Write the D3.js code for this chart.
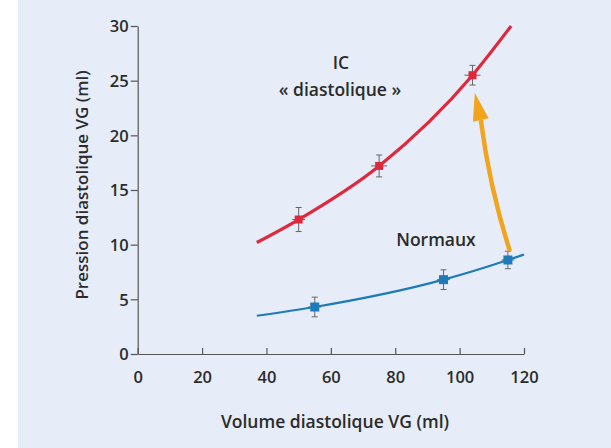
<!DOCTYPE html>
<html>
<head>
<meta charset="utf-8">
<script src="https://cdn.jsdelivr.net/npm/d3@7"></script>
<style>
  html, body { margin: 0; padding: 0; background: #fff; }
  text { font-family: "Open Sans", sans-serif; fill: #2b2b2b; }
</style>
</head>
<body>
<div id="chart"></div>
<script>
// data
var xTicks = [0, 20, 40, 60, 80, 100, 120];
var yTicks = [0, 5, 10, 15, 20, 25, 30];

var icVolume = [50, 75, 104];
var icPressure = [12.3, 17.2, 25.5];
var icErrX = [2, 2.5, 2.5];
var icErrY = [1.1, 1.0, 0.9];
var icCurveX = [37, 50, 75, 104, 116];
var icCurveY = [10.2, 12.3, 17.2, 25.5, 30];

var normVolume = [55, 95, 115];
var normPressure = [4.3, 6.8, 8.6];
var normErrX = [2, 2, 2];
var normErrY = [0.9, 0.9, 0.8];
var normCurveX = [37, 55, 95, 115, 120];
var normCurveY = [3.5, 4.3, 6.8, 8.6, 9.1];

var arrowX = [115.6, 104.7];
var arrowY = [9.4, 23.9];

var W = 611, H = 448;

var svg = d3.select('#chart').append('svg')
  .attr('width', W)
  .attr('height', H);

svg.append('rect')
  .attr('x', 18).attr('y', 0)
  .attr('width', W - 18).attr('height', H)
  .attr('fill', '#e6edf8');

var x = d3.scaleLinear().domain([0, 120]).range([137.7, 524]);
var y = d3.scaleLinear().domain([0, 30]).range([354, 26]);

// axes
var xAxis = svg.append('g')
  .attr('transform', 'translate(0,' + y(0) + ')')
  .call(d3.axisBottom(x).tickValues(xTicks).tickSizeInner(-6).tickSizeOuter(0).tickPadding(17));
var yAxis = svg.append('g')
  .attr('transform', 'translate(' + x(0) + ',0)')
  .call(d3.axisLeft(y).tickValues(yTicks).tickSizeInner(7).tickSizeOuter(0).tickPadding(2));

[xAxis, yAxis].forEach(function(a) {
  a.select('.domain').attr('stroke', '#555').attr('stroke-width', 1.2);
  a.selectAll('.tick line').attr('stroke', '#555').attr('stroke-width', 1.2);
  a.selectAll('.tick text')
    .attr('fill', '#2b2b2b')
    .style('font-family', '"Open Sans", sans-serif')
    .style('font-size', '16.5px')
    .style('font-weight', 600);
});
yAxis.selectAll('.tick text').attr('dy', '0.36em');

// axis titles
svg.append('text')
  .attr('x', 335).attr('y', 428)
  .attr('text-anchor', 'middle')
  .style('font-size', '17.5px').style('font-weight', 600)
  .text('Volume diastolique VG (ml)');

svg.append('text')
  .attr('transform', 'translate(88,185) rotate(-90)')
  .attr('text-anchor', 'middle')
  .style('font-size', '17px').style('font-weight', 600)
  .text('Pression diastolique VG (ml)');

// curves
var line = d3.line()
  .x(function(d) { return x(d[0]); })
  .y(function(d) { return y(d[1]); })
  .curve(d3.curveMonotoneX);

svg.append('path')
  .datum(d3.zip(icCurveX, icCurveY))
  .attr('d', line)
  .attr('fill', 'none')
  .attr('stroke', '#e0283c')
  .attr('stroke-width', 3.2);

svg.append('path')
  .datum(d3.zip(normCurveX, normCurveY))
  .attr('d', line)
  .attr('fill', 'none')
  .attr('stroke', '#1c7bb8')
  .attr('stroke-width', 2.2);

// error bars and markers
function drawPoints(xs, ys, ex, ey, color, size) {
  var pts = xs.map(function(v, i) {
    return { x: v, y: ys[i], ex: ex[i], ey: ey[i] };
  });
  var g = svg.append('g');
  g.selectAll('line.ev').data(pts).enter().append('line')
    .attr('x1', function(d) { return x(d.x); })
    .attr('x2', function(d) { return x(d.x); })
    .attr('y1', function(d) { return y(d.y - d.ey); })
    .attr('y2', function(d) { return y(d.y + d.ey); })
    .attr('stroke', '#666').attr('stroke-width', 1);
  g.selectAll('line.eh').data(pts).enter().append('line')
    .attr('x1', function(d) { return x(d.x - d.ex); })
    .attr('x2', function(d) { return x(d.x + d.ex); })
    .attr('y1', function(d) { return y(d.y); })
    .attr('y2', function(d) { return y(d.y); })
    .attr('stroke', '#666').attr('stroke-width', 1);
  // caps
  g.selectAll('line.ct').data(pts).enter().append('line')
    .attr('x1', function(d) { return x(d.x) - 3; })
    .attr('x2', function(d) { return x(d.x) + 3; })
    .attr('y1', function(d) { return y(d.y + d.ey); })
    .attr('y2', function(d) { return y(d.y + d.ey); })
    .attr('stroke', '#666').attr('stroke-width', 1);
  g.selectAll('line.cb').data(pts).enter().append('line')
    .attr('x1', function(d) { return x(d.x) - 3; })
    .attr('x2', function(d) { return x(d.x) + 3; })
    .attr('y1', function(d) { return y(d.y - d.ey); })
    .attr('y2', function(d) { return y(d.y - d.ey); })
    .attr('stroke', '#666').attr('stroke-width', 1);
  g.selectAll('rect').data(pts).enter().append('rect')
    .attr('x', function(d) { return x(d.x) - size / 2; })
    .attr('y', function(d) { return y(d.y) - size / 2; })
    .attr('width', size).attr('height', size)
    .attr('fill', color);
}
drawPoints(icVolume, icPressure, icErrX, icErrY, '#e0283c', 8);
drawPoints(normVolume, normPressure, normErrX, normErrY, '#1c7bb8', 9);

// arrow from normal to IC
var ax0 = x(arrowX[0]), ay0 = y(arrowY[0]);
var ax1 = x(arrowX[1]), ay1 = y(arrowY[1]);
var ang = Math.atan2(ay1 - ay0, ax1 - ax0);
var headLen = 28, headW = 8;
var bx = ax1 - headLen * Math.cos(ang), by = ay1 - headLen * Math.sin(ang);
var px = -Math.sin(ang), py = Math.cos(ang);
var cx = (ax0 + bx) / 2 - px * 6, cy = (ay0 + by) / 2 - py * 6;

svg.append('path')
  .attr('d', 'M' + ax0 + ',' + ay0 +
    'Q' + cx + ',' + cy + ' ' + bx + ',' + by)
  .attr('fill', 'none')
  .attr('stroke', '#f2a41c')
  .attr('stroke-width', 4.5);

svg.append('path')
  .attr('d', 'M' + ax1 + ',' + ay1 +
    'L' + (bx + px * headW) + ',' + (by + py * headW) +
    'L' + (bx - px * headW) + ',' + (by - py * headW) + 'Z')
  .attr('fill', '#f2a41c');

// labels
svg.append('text')
  .attr('x', 341).attr('y', 69)
  .attr('text-anchor', 'middle')
  .style('font-size', '17.5px').style('font-weight', 600)
  .text('IC');
svg.append('text')
  .attr('x', 340).attr('y', 96)
  .attr('text-anchor', 'middle')
  .style('font-size', '17.5px').style('font-weight', 600)
  .text('« diastolique »');
svg.append('text')
  .attr('x', 436).attr('y', 246)
  .attr('text-anchor', 'middle')
  .style('font-size', '17.5px').style('font-weight', 600)
  .text('Normaux');
</script>
</body>
</html>
